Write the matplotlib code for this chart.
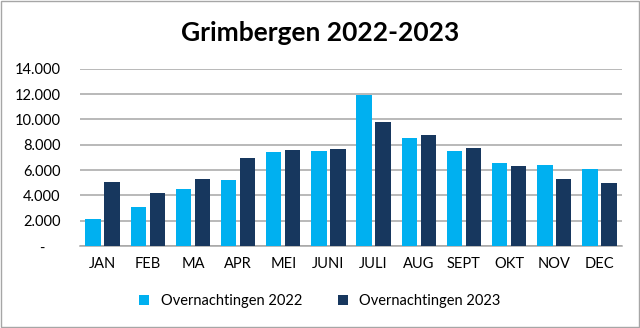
import matplotlib.pyplot as plt
import matplotlib.ticker as mticker
import numpy as np

plt.rcParams['font.family'] = ['Lato', 'DejaVu Sans']

months = ["JAN", "FEB", "MA", "APR", "MEI", "JUNI", "JULI", "AUG", "SEPT", "OKT", "NOV", "DEC"]
y2022 = [2100, 3070, 4490, 5250, 7430, 7540, 11930, 8540, 7490, 6570, 6440, 6070]
y2023 = [5070, 4180, 5310, 6990, 7560, 7670, 9820, 8770, 7750, 6360, 5310, 4960]

C22 = "#00B0F0"
C23 = "#17375E"

fig = plt.figure(figsize=(6.4, 3.28), dpi=100)
ax = fig.add_axes([0.125, 0.25, 0.847, 0.54])

x = np.arange(len(months))
w = 0.34
ax.bar(x - 0.21, y2022, w, color=C22, label="Overnachtingen 2022", zorder=3)
ax.bar(x + 0.21, y2023, w, color=C23, label="Overnachtingen 2023", zorder=3)

ax.set_xlim(-0.5, len(months) - 0.5)
ax.set_ylim(0, 14000)
ax.set_yticks(range(0, 14001, 2000))


def fmt(v, pos):
    if v == 0:
        return "-    "
    return f"{int(v):,}".replace(",", ".")


ax.yaxis.set_major_formatter(mticker.FuncFormatter(fmt))
ax.set_xticks(x)
ax.set_xticklabels(months)
ax.tick_params(axis="both", length=0, labelsize=10.5, colors="#000000")
ax.tick_params(axis="x", pad=8)
ax.tick_params(axis="y", pad=14)
ax.grid(axis="y", color="#A6A6A6", lw=1.1, zorder=0)
for s in ["top", "right", "left"]:
    ax.spines[s].set_visible(False)
ax.spines["bottom"].set_color("#A6A6A6")
ax.spines["bottom"].set_linewidth(1.1)

fig.text(0.5, 0.9, "Grimbergen 2022-2023", ha="center", va="center",
         fontsize=19, fontweight="bold")

fig.legend(loc="center", bbox_to_anchor=(0.5, 0.083), ncol=2, frameon=False,
           fontsize=10.5, handlelength=0.7, handleheight=0.7, columnspacing=2.4,
           handletextpad=0.8)

fig.patches.append(plt.Rectangle((0.002, 0.003), 0.996, 0.994, transform=fig.transFigure,
                                 fill=False, edgecolor="#A6A6A6", lw=1))

fig.savefig("out.png", dpi=100)
